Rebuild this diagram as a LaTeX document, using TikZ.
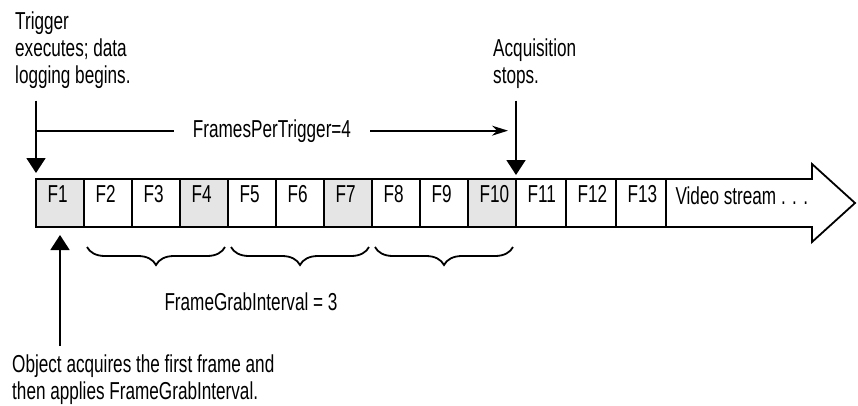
\documentclass[tikz,border=0pt]{standalone}
\usepackage{fontspec}
\setmainfont[FakeStretch=0.7]{Liberation Sans}
\usepackage{xcolor}
\usepackage{tikz}
\usetikzlibrary{arrows.meta,decorations.pathreplacing}
\definecolor{frameshade}{gray}{0.9}
\tikzset{
  cell/.style={draw, line width=1.8pt, minimum height=48pt, inner sep=0pt, outer sep=0pt, anchor=north west},
  note/.style={align=left, inner sep=0pt, anchor=north west},
  pointer/.style={line width=1.8pt, -{Triangle[length=15pt,width=19pt]}},
  framebrace/.style={line width=1.8pt, decorate, decoration={brace, mirror, amplitude=18pt}}
}

\begin{document}
\begin{tikzpicture}[x=1pt, y=-1pt, font=\fontsize{24.5}{27}\selectfont]
  % 1 unit = 1 px of the strip, y grows downwards
  \useasboundingbox (0,0) rectangle (858,405);
  \draw[line width=1.8pt, fill=white] (36,179) -- (812,179) -- (812,164) -- (855,203) -- (812,242) -- (812,227) -- (36,227) -- cycle;
  \foreach \n/\xl/\xr/\cellfill in {1/36/84/frameshade, 2/84/132/white, 3/132/180/white, 4/180/228/frameshade,
      5/228/276/white, 6/276/324/white, 7/324/372/frameshade, 8/372/420/white, 9/420/468/white,
      10/468/516/frameshade, 11/516/566/white, 12/566/616/white, 13/616/666/white} {
    \node[cell, fill=\cellfill, minimum width={(\xr-\xl)*1pt}] (f\n) at (\xl,179) {};
    \node[anchor=base west] (l\n) at (\xl+8,202) {F\n};
  }
  \node[anchor=base west] (stream) at (672,204) {Video stream . . .};

  \node[note] (trig) at (15,11.5) {Trigger\\executes; data\\logging begins.};
  \node[note] (acq) at (493,38.5) {Acquisition\\stops.};
  \node[note] (obj) at (12,355) {Object acquires the first frame and\\then applies FrameGrabInterval.};
  \node[anchor=base, inner xsep=19pt] (fpt) at (272,137) {FramesPerTrigger=4};
  \node[anchor=base] (fgi) at (251,310) {FrameGrabInterval = 3};

  \draw[line width=1.8pt] (fpt.west) -- (fpt.west -| f1.north west);
  \draw[line width=1.8pt, -{Stealth[length=16pt,width=10pt]}, shorten >=8pt] (fpt.east) -- (fpt.east -| f11.north west);
  \draw[pointer, shorten <=12pt, shorten >=6pt] (trig.south -| f1.north west) -- (f1.north west);
  \draw[pointer, shorten <=12pt, shorten >=4pt] (acq.south -| f11.north west) -- (f11.north west);
  \draw[pointer, shorten <=9pt, shorten >=8pt] (obj.north -| f1.south) -- (f1.south);

  \foreach \a/\b in {2/4, 5/7, 8/10}
    \draw[framebrace] ([xshift=3pt, yshift=-20pt]f\a.south west) -- ([xshift=-3pt, yshift=-20pt]f\b.south east);
\end{tikzpicture}
\end{document}
